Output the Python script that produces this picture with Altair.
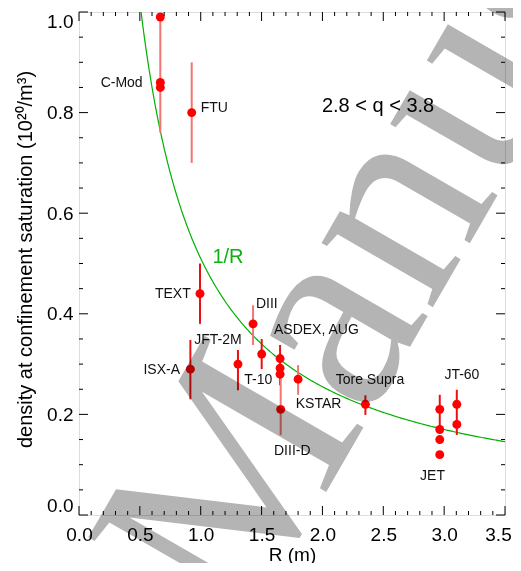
import altair as alt
import pandas as pd

# ---- data ----
pt_name = ["C-Mod", "C-Mod", "C-Mod", "FTU", "TEXT", "DIII", "JFT-2M", "T-10",
           "ASDEX, AUG", "ASDEX, AUG", "ASDEX, AUG", "DIII-D", "KSTAR", "ISX-A",
           "Tore Supra", "JET", "JET", "JET", "JET", "JT-60", "JT-60"]
pt_R = [0.668, 0.668, 0.668, 0.926, 0.994, 1.43, 1.306, 1.501,
        1.652, 1.652, 1.652, 1.657, 1.80, 0.915,
        2.353, 2.964, 2.964, 2.964, 2.964, 3.104, 3.104]
pt_n = [0.99, 0.86, 0.85, 0.80, 0.44, 0.38, 0.30, 0.32,
        0.311, 0.292, 0.28, 0.21, 0.27, 0.29,
        0.22, 0.21, 0.17, 0.15, 0.12, 0.22, 0.18]

err_R = [0.668, 0.926, 0.994, 1.43, 1.306, 1.501, 1.652, 1.657, 1.80, 0.915, 2.353, 2.964, 3.104]
err_lo = [0.76, 0.70, 0.38, 0.338, 0.248, 0.29, 0.258, 0.159, 0.239, 0.23, 0.199, 0.17, 0.159]
err_hi = [0.99, 0.90, 0.50, 0.417, 0.328, 0.35, 0.338, 0.272, 0.298, 0.348, 0.238, 0.239, 0.249]
err_kind = ["light", "light", "solid", "light", "solid", "solid", "solid", "light",
            "light", "solid", "solid", "solid", "solid"]

lab_text = ["C-Mod", "FTU", "TEXT", "DIII", "JFT-2M", "ASDEX, AUG", "T-10", "ISX-A",
            "KSTAR", "DIII-D", "Tore Supra", "JT-60", "JET"]
lab_R = [0.523, 1.0, 0.918, 1.454, 0.947, 1.602, 1.358, 0.830,
         1.781, 1.602, 2.109, 3.002, 2.802]
lab_n = [0.859, 0.809, 0.439, 0.419, 0.348, 0.368, 0.268, 0.288,
         0.221, 0.128, 0.268, 0.278, 0.0775]
lab_align = ["right", "left", "right", "left", "left", "left", "left", "right",
             "left", "left", "left", "left", "left"]

curve_k = 0.51  # n = k / R

x_major = [0.0, 0.5, 1.0, 1.5, 2.0, 2.5, 3.0, 3.5]
x_minor = [0.1, 0.2, 0.3, 0.4, 0.6, 0.7, 0.8, 0.9, 1.1, 1.2, 1.3, 1.4, 1.6, 1.7,
           1.8, 1.9, 2.1, 2.2, 2.3, 2.4, 2.6, 2.7, 2.8, 2.9, 3.1, 3.2, 3.3, 3.4]
y_major = [0.0, 0.2, 0.4, 0.6, 0.8, 1.0]
y_minor = [0.05, 0.1, 0.15, 0.25, 0.3, 0.35, 0.45, 0.5, 0.55, 0.65, 0.7, 0.75,
           0.85, 0.9, 0.95]

W, H = 426, 503
FONT = "Liberation Sans"

xs = alt.Scale(domain=[0, 3.5], nice=False, zero=False)
ys = alt.Scale(domain=[0, 1.0], nice=False, zero=False)

x_axis = alt.Axis(values=x_major, format=".1f", title="R (m)", grid=False,
                  ticks=False, domain=False, labelFontSize=19, labelFont=FONT,
                  labelPadding=10, labelColor="black", titleFontSize=19,
                  titleFont=FONT, titleFontWeight="normal", titleColor="black",
                  titleBaseline="alphabetic", titleY=45, labelFlush=False,
                  labelOffset={"condition": {"test": "datum.value >= 3.5", "value": -7},
                               "value": 0})
y_axis = alt.Axis(values=y_major, format=".1f",
                  title="density at confinement saturation (10²⁰/m³)",
                  grid=False, ticks=False, domain=False, labelFontSize=19,
                  labelFont=FONT, labelPadding=6, labelColor="black",
                  titleFontSize=20, titleFont=FONT, titleFontWeight="normal",
                  titleColor="black", titleBaseline="alphabetic", titleX=-48,
                  titleY=247, titleAngle=-90, labelFlush=True)

pts = pd.DataFrame({"name": pt_name, "R": pt_R, "n": pt_n})
errs = pd.DataFrame({"R": err_R, "lo": err_lo, "hi": err_hi, "kind": err_kind})
labs = pd.DataFrame({"text": lab_text, "R": lab_R, "n": lab_n, "align": lab_align})

base_axes = alt.Chart(pts).mark_point(opacity=0).encode(
    x=alt.X("R:Q", scale=xs, axis=x_axis),
    y=alt.Y("n:Q", scale=ys, axis=y_axis),
)

def xticks(vals, length):
    d = pd.DataFrame({"v": vals})
    bot = alt.Chart(d).mark_rule(color="black", strokeWidth=1).encode(
        x=alt.X("v:Q", scale=xs), y=alt.value(H), y2=alt.value(H - length))
    top = alt.Chart(d).mark_rule(color="black", strokeWidth=1).encode(
        x=alt.X("v:Q", scale=xs), y=alt.value(0), y2=alt.value(length))
    return bot + top

def yticks(vals, length):
    d = pd.DataFrame({"v": vals})
    lft = alt.Chart(d).mark_rule(color="black", strokeWidth=1).encode(
        y=alt.Y("v:Q", scale=ys), x=alt.value(0), x2=alt.value(length))
    rgt = alt.Chart(d).mark_rule(color="black", strokeWidth=1).encode(
        y=alt.Y("v:Q", scale=ys), x=alt.value(W), x2=alt.value(W - length))
    return lft + rgt

curve = alt.Chart(alt.sequence(0.51, 3.505, 0.01, as_="R")).transform_calculate(
    n=f"{curve_k} / datum.R"
).mark_line(color="#00b000", strokeWidth=1.2, clip=True).encode(
    x=alt.X("R:Q", scale=xs), y=alt.Y("n:Q", scale=ys))

ebars = alt.Chart(errs).mark_rule(strokeWidth=2).encode(
    x=alt.X("R:Q", scale=xs), y=alt.Y("lo:Q", scale=ys), y2="hi:Q",
    color=alt.Color("kind:N", scale=alt.Scale(domain=["light", "solid"],
                                              range=["#f57373", "#ee1010"]),
                    legend=None))

points = alt.Chart(pts).mark_circle(size=80, color="#ff0000", opacity=1).encode(
    x=alt.X("R:Q", scale=xs), y=alt.Y("n:Q", scale=ys))

def labels(align):
    return alt.Chart(labs).transform_filter(
        alt.datum.align == align
    ).mark_text(font=FONT, fontSize=14, color="#111", align=align,
                baseline="middle").encode(
        x=alt.X("R:Q", scale=xs), y=alt.Y("n:Q", scale=ys), text="text:N")

q_text = alt.Chart(pd.DataFrame({"R": [2.457], "n": [0.813], "t": ["2.8 < q < 3.8"]})).mark_text(
    font=FONT, fontSize=20, color="black", align="center", baseline="middle"
).encode(x=alt.X("R:Q", scale=xs), y=alt.Y("n:Q", scale=ys), text="t:N")

r_text = alt.Chart(pd.DataFrame({"R": [1.224], "n": [0.513], "t": ["1/R"]})).mark_text(
    font=FONT, fontSize=20, color="#10b010", align="center", baseline="middle"
).encode(x=alt.X("R:Q", scale=xs), y=alt.Y("n:Q", scale=ys), text="t:N")

watermark = alt.Chart(pd.DataFrame({"t": ["Manuscript"]})).mark_text(
    font="Liberation Serif", fontSize=280, color="#b4b4b4", align="left",
    baseline="alphabetic", angle=300, blend="multiply"
).encode(x=alt.value(164), y=alt.value(624), text="t:N")

chart = alt.layer(
    base_axes,
    xticks(x_minor, 4), xticks(x_major, 9),
    yticks(y_minor, 4), yticks(y_major, 9),
    curve, ebars, points, labels("left"), labels("right"),
    q_text, r_text, watermark,
).properties(
    width=W, height=H,
    autosize=alt.AutoSizeParams(type="none"),
    padding={"left": 71, "top": 4, "right": 8, "bottom": 48},
).configure_view(stroke="black", strokeWidth=1.2).configure(background="white")

chart.save("out.html", embed_options={"renderer": "svg", "actions": False})
